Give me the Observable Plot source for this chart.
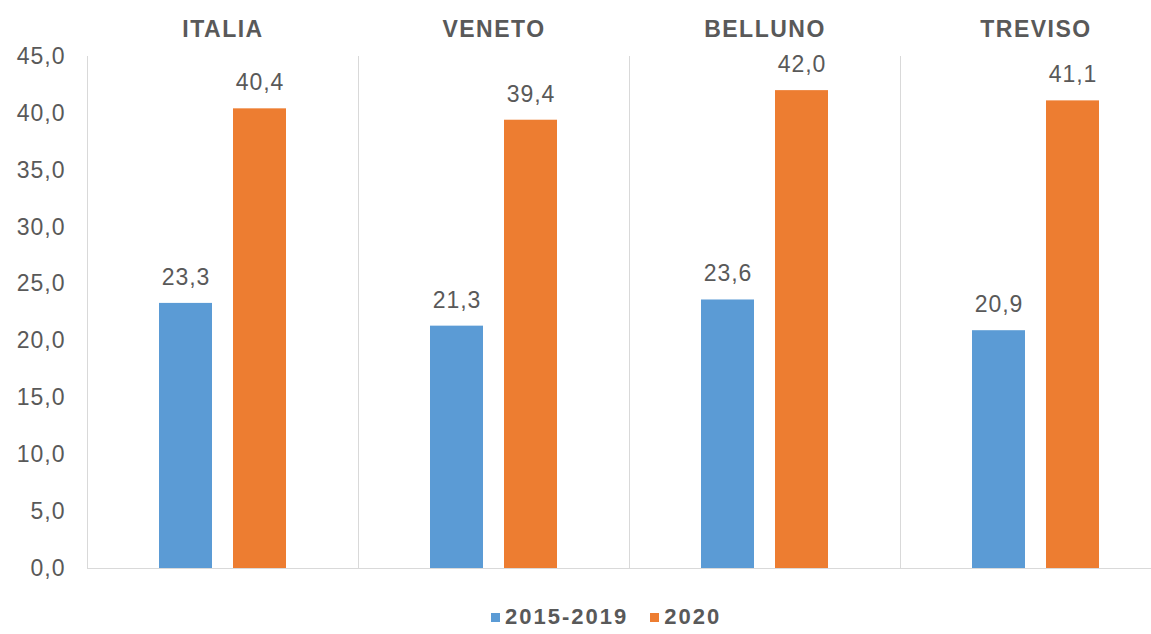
<!DOCTYPE html>
<html>
<head>
<meta charset="utf-8">
<script src="https://cdn.jsdelivr.net/npm/d3@7"></script>
<script src="https://cdn.jsdelivr.net/npm/@observablehq/plot@0.6"></script>
<style>
  html, body { margin: 0; padding: 0; background: #fff; overflow: hidden; width: 1151px; height: 634px; }
  #chart svg { display: block; max-width: none !important; }
  g[aria-label="fx-axis tick label"] text, g[aria-label="fx-axis"] text { font-weight: bold; letter-spacing: 1.5px; }
  g[aria-label="y-axis tick label"] text, g[aria-label="y-axis"] text { letter-spacing: 1px; }
  #legend { display: flex; align-items: center; margin-left: 491px; height: 34px; font-family: "Liberation Sans", Arial, sans-serif; font-weight: bold; font-size: 22px; letter-spacing: 2px; color: #595959; }
  #legend .sw { display: inline-block; width: 9px; height: 9px; margin-right: 5px; }
  #legend .item { display: flex; align-items: center; margin-right: 22px; }
</style>
</head>
<body>
<div id="chart"></div>
<div id="legend"></div>
<script>
const regions = ["ITALIA", "VENETO", "BELLUNO", "TREVISO"];
const periods = ["2015-2019", "2020"];
const values2015_2019 = [23.3, 21.3, 23.6, 20.9];
const values2020 = [40.4, 39.4, 42.0, 41.1];
const yTicks = [0, 5, 10, 15, 20, 25, 30, 35, 40, 45];
const colors = ["#5B9BD5", "#ED7D31"];

const fmt = v => v.toFixed(1).replace(".", ",");

const data = regions.flatMap((r, i) => [
  {region: r, period: periods[0], value: values2015_2019[i]},
  {region: r, period: periods[1], value: values2020[i]}
]);

const chart = Plot.plot({
  width: 1171,
  height: 600,
  marginLeft: 86,
  marginRight: 0,
  marginTop: 56,
  marginBottom: 32,
  style: {fontFamily: "'Liberation Sans', Arial, sans-serif", fontSize: "23px", color: "#595959", background: "#fff", maxWidth: "none"},
  fx: {domain: regions, padding: 0, axis: "top", label: null, tickSize: 0, tickPadding: 20},
  x: {domain: periods, paddingInner: 0.28, paddingOuter: 0.953, axis: null},
  y: {domain: [0, 45], ticks: yTicks, tickFormat: fmt, tickSize: 0, tickPadding: 22, label: null},
  color: {domain: periods, range: colors},
  marks: [
    Plot.frame({anchor: "left", stroke: "#d9d9d9", strokeOpacity: 1}),
    Plot.ruleY([0], {stroke: "#d9d9d9"}),
    Plot.barY(data, {fx: "region", x: "period", y: "value", fill: "period"}),
    Plot.text(data, {fx: "region", x: "period", y: "value", text: d => fmt(d.value), dy: -26, fill: "#595959", fontSize: 23})
  ]
});
document.getElementById("chart").appendChild(chart);
chart.querySelectorAll('g[aria-label="text"] text').forEach(t => t.style.letterSpacing = "1px");

const legend = document.getElementById("legend");
periods.forEach((p, i) => {
  const item = document.createElement("span");
  item.className = "item";
  const sw = document.createElement("span");
  sw.className = "sw";
  sw.style.background = colors[i];
  item.appendChild(sw);
  item.appendChild(document.createTextNode(p));
  legend.appendChild(item);
});
</script>
</body>
</html>
